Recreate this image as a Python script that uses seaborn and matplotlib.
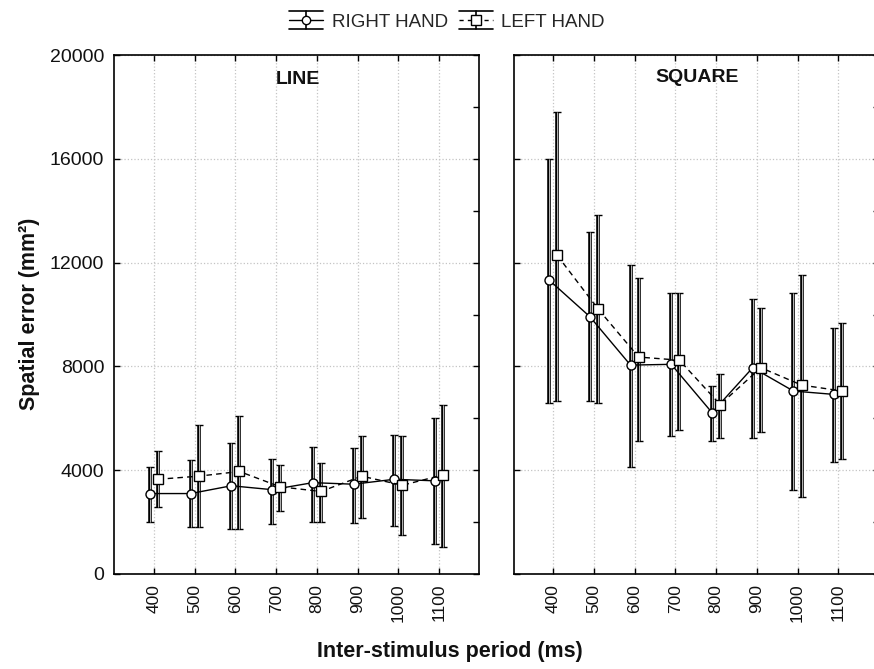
import numpy as np
import pandas as pd
import matplotlib
matplotlib.use("Agg")
import matplotlib.pyplot as plt
import seaborn as sns
from matplotlib.lines import Line2D
from matplotlib.legend_handler import HandlerBase
from matplotlib.ticker import MultipleLocator

periods = ["400", "500", "600", "700", "800", "900", "1000", "1100"]
hands = ["RIGHT HAND", "LEFT HAND"]

# LINE task
line_right_mean = [3100, 3100, 3400, 3250, 3520, 3460, 3650, 3590]
line_right_low = [2010, 1800, 1730, 1910, 2010, 1960, 1860, 1150]
line_right_high = [4130, 4390, 5040, 4420, 4900, 4850, 5370, 6000]
line_left_mean = [3650, 3770, 3950, 3360, 3180, 3770, 3420, 3820]
line_left_low = [2570, 1800, 1730, 2440, 2010, 2140, 1500, 1030]
line_left_high = [4740, 5740, 6090, 4210, 4260, 5310, 5320, 6500]

# SQUARE task
sq_right_mean = [11330, 9920, 8050, 8080, 6220, 7950, 7050, 6920]
sq_right_low = [6600, 6670, 4140, 5320, 5130, 5260, 3240, 4320]
sq_right_high = [16000, 13190, 11890, 10830, 7240, 10600, 10830, 9490]
sq_left_mean = [12280, 10220, 8360, 8240, 6530, 7950, 7280, 7050]
sq_left_low = [6670, 6600, 5130, 5540, 5260, 5490, 2960, 4420]
sq_left_high = [17810, 13830, 11420, 10830, 7720, 10240, 11540, 9670]

sns.set_style("ticks")
plt.rcParams["font.family"] = ["Liberation Sans", "DejaVu Sans"]

W, H = 874, 669
fig = plt.figure(figsize=(W / 100, H / 100), dpi=100)
ax1 = fig.add_axes([114 / W, 95 / H, 365 / W, 519 / H])
ax2 = fig.add_axes([514 / W, 95 / H, 365 / W, 519 / H])


def draw_panel(ax, title, tx, ty, rm, rl, rh, lm, ll, lh, xlim, show_ylabels):
    df = pd.DataFrame({
        "period": periods * 2,
        "hand": [hands[0]] * len(periods) + [hands[1]] * len(periods),
        "error": rm + lm,
    })
    sns.pointplot(data=df, x="period", y="error", hue="hand", order=periods,
                  hue_order=hands, palette=["black", "black"], markers=["o", "s"],
                  linestyles=["-", "--"], dodge=0.2, errorbar=None, ax=ax,
                  legend=False)
    for ln in ax.lines:
        ln.set_markerfacecolor("white")
        ln.set_markeredgecolor("black")
        ln.set_markeredgewidth(1.0)
        ln.set_linewidth(1.0)
        ln.set_zorder(5)
        if ln.get_marker() == "s":
            ln.set_markersize(7.5)
            ln.set_dashes([4, 3])
        else:
            ln.set_markersize(6.5)
    xs = np.arange(len(periods))
    for off, m, lo, hi in [(-0.1, rm, rl, rh), (0.1, lm, ll, lh)]:
        m = np.array(m); lo = np.array(lo); hi = np.array(hi)
        ax.errorbar(xs + off, m, yerr=[m - lo, hi - m], fmt="none",
                    ecolor="black", elinewidth=2.6, capsize=3, capthick=1,
                    zorder=2)
        ax.vlines(xs + off, lo, hi, colors="#d4d4d4", linewidth=0.6, zorder=2.5)
    ax.set_xlim(*xlim)
    ax.set_ylim(0, 20000)
    ax.set_yticks(np.arange(0, 20001, 4000))
    ax.yaxis.set_minor_locator(MultipleLocator(2000))
    ax.grid(True, which="major", color="#c4c4c4", linestyle=":", linewidth=0.9)
    ax.set_axisbelow(True)
    ax.tick_params(which="major", direction="in", top=True, right=True,
                   length=4, width=1, color="black", labelcolor="#111111",
                   pad=7)
    ax.tick_params(axis="y", labelsize=14)
    ax.tick_params(axis="x", labelsize=12.5, labelrotation=90)
    ax.tick_params(which="minor", direction="in", left=False, right=True,
                   length=4, width=1, color="black")
    if not show_ylabels:
        ax.tick_params(axis="y", labelleft=False)
    for sp in ax.spines.values():
        sp.set_color("black")
        sp.set_linewidth(1.2)
    ax.set_xlabel("")
    ax.set_ylabel("")
    ax.text(tx, ty, title, transform=ax.transAxes, ha="center", va="center",
            fontsize=14, fontweight="bold", color="#111111")


draw_panel(ax1, "LINE", (298 - 114) / 365, (574 - 80) / 519, line_right_mean,
           line_right_low, line_right_high, line_left_mean, line_left_low,
           line_left_high, (-0.98, 7.98), True)
draw_panel(ax2, "SQUARE", (697 - 514) / 365, (574 - 77) / 519, sq_right_mean,
           sq_right_low, sq_right_high, sq_left_mean, sq_left_low, sq_left_high,
           (-0.96, 8.0), False)


class ErrHandle(HandlerBase):
    def __init__(self, marker, ms, dashed):
        super().__init__()
        self.marker = marker
        self.ms = ms
        self.dashed = dashed

    def create_artists(self, legend, orig_handle, xdescent, ydescent, width,
                       height, fontsize, trans):
        x0 = -xdescent
        x1 = x0 + width
        xm = (x0 + x1) / 2
        ym = -ydescent + height / 2
        d = 0.68 * height
        arts = []
        for yy in (ym - d, ym + d):
            arts.append(Line2D([x0, x1], [yy, yy], color="black", lw=1.2))
        arts.append(Line2D([xm, xm], [ym - d, ym + d], color="black", lw=1.2))
        mid = Line2D([x0, x1], [ym, ym], color="black", lw=1.0)
        if self.dashed:
            mid.set_dashes([3, 3])
        arts.append(mid)
        arts.append(Line2D([xm], [ym], marker=self.marker, markersize=self.ms,
                           markerfacecolor="white", markeredgecolor="black",
                           linestyle="none"))
        for a in arts:
            a.set_transform(trans)
        return arts


h_r = Line2D([], [], color="black")
h_l = Line2D([], [], color="black", linestyle="--")
fig.legend([h_r, h_l], hands, loc="center", bbox_to_anchor=(447 / W, 1 - 22 / H),
           ncol=2, frameon=False, fontsize=13.5, handlelength=1.8,
           columnspacing=0.6, handletextpad=0.45,
           handler_map={h_r: ErrHandle("o", 6, False), h_l: ErrHandle("s", 6.5, True)})

fig.text(30 / W, 1 - 314 / H, "Spatial error (mm²)", rotation=90, ha="center",
         va="center", fontsize=15.5, fontweight="bold", color="#111111")
fig.text(450 / W, 1 - 651 / H, "Inter-stimulus period (ms)", ha="center",
         va="center", fontsize=15.5, fontweight="bold", color="#111111")

fig.savefig("out.png", dpi=100)
